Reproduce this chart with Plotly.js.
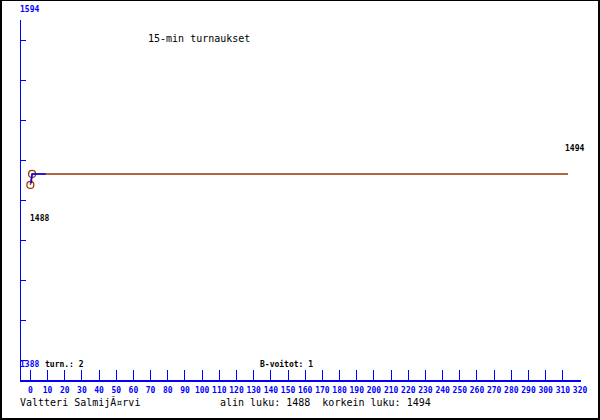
<!DOCTYPE html>
<html>
<head>
<meta charset="utf-8">
<script src="https://cdn.plot.ly/plotly-3.0.1.min.js"></script>
<style>
html,body{margin:0;padding:0;background:#fff;}
#wrap{position:relative;width:600px;height:420px;}
#chart{position:absolute;left:0;top:0;width:600px;height:420px;}
#frame{position:absolute;left:0;top:0;width:600px;height:420px;box-sizing:border-box;border:2px solid #000;border-top-width:1px;pointer-events:none;}
</style>
</head>
<body>
<div id="wrap"><div id="chart"></div><div id="frame"></div></div>
<script>
// ---- data ----
const gameX = [0, 1];            // tournament index
const rating = [1488, 1494];     // rating after each tournament
const lastX = 313;               // rating line extended to here
const avgX = [0.5, 1, 9];        // blue helper line
const avgY = [1489, 1494, 1494];
const xTicks = [0,10,20,30,40,50,60,70,80,90,100,110,120,130,140,150,160,170,180,190,200,210,220,230,240,250,260,270,280,290,300,310,320];
const topLabel = "1594";
const bottomLabel = "1388";
const titleText = "15-min turnaukset";
const playerName = "Valtteri SalmijÃ¤rvi";
const minRating = 1488;
const maxRating = 1494;
const tournaments = 2;
const bWins = 1;

// ---- layout geometry ----
const W = 600, H = 420, ML = 21, MR = 19, MT = 20, MB = 40;
const PW = W - ML - MR, PH = H - MT - MB;
const yBot = 1381.6, yTop = 1578;
const ySpan = yTop - yBot;
const px = x => (x - ML) / PW;          // pixel -> paper x
const py = y => (H - MB - y) / PH;      // pixel -> paper y

const brown = '#993300', blue = '#0000ff';
const mono = 'DejaVu Sans Mono';

const traces = [
  {x: [gameX[gameX.length-1], lastX], y: [rating[rating.length-1], rating[rating.length-1]],
   mode: 'lines', line: {color: brown, width: 1.5}, hoverinfo: 'skip'},
  {x: gameX, y: rating, mode: 'lines+markers', line: {color: brown, width: 1.5},
   marker: {symbol: 'circle-open', size: 7, color: brown, line: {width: 1.2, color: brown}}},
  {x: avgX, y: avgY, mode: 'lines', line: {color: blue, width: 1.5}, hoverinfo: 'skip'}
];

function ann(text, x, y, opts) {
  return Object.assign({text: text, xref: 'paper', yref: 'paper', x: px(x), y: py(y),
    xanchor: 'left', yanchor: 'middle', showarrow: false, borderpad: 0, borderwidth: 0,
    font: {family: mono, size: 8, color: '#000', weight: 'bold'}}, opts || {});
}

const annotations = [
  ann(topLabel, 20, 9, {font: {family: mono, size: 8, color: blue, weight: 'bold'}}),
  ann(bottomLabel, 20, 364, {font: {family: mono, size: 8, color: blue, weight: 'bold'}}),
  ann('turn.: ' + tournaments, 45, 364),
  ann('B-voitot: ' + bWins, 260, 364),
  ann(String(maxRating), 565, 148),
  ann(String(minRating), 30, 218),
  ann(titleText, 148, 38, {font: {family: mono, size: 10, color: '#000'}}),
  ann(playerName, 20, 402, {font: {family: mono, size: 10, color: '#000'}}),
  ann('alin luku: ' + minRating + '\u00a0\u00a0korkein luku: ' + maxRating, 220, 402,
      {font: {family: mono, size: 10, color: '#000'}})
];

const layout = {
  width: W, height: H,
  margin: {l: ML, r: MR, t: MT, b: MB, pad: 0},
  paper_bgcolor: '#fff', plot_bgcolor: '#fff',
  showlegend: false,
  xaxis: {
    range: [-5.45, 320.55], showgrid: false, zeroline: false,
    showline: true, linecolor: blue, linewidth: 1.5,
    tickmode: 'array', tickvals: xTicks, ticktext: xTicks.map(String),
    ticks: 'inside', ticklen: 10, tickcolor: blue, tickwidth: 1,
    ticklabelstandoff: 2,
    tickfont: {family: mono, size: 8, color: blue, weight: 'bold'},
    fixedrange: true
  },
  yaxis: {
    range: [yBot, yTop], showgrid: false, zeroline: false,
    showline: true, linecolor: blue, linewidth: 1.5,
    tickmode: 'linear', tick0: yBot + ySpan / 18, dtick: ySpan / 9,
    ticks: 'inside', ticklen: 5, tickcolor: blue, tickwidth: 1,
    showticklabels: false, fixedrange: true
  },
  annotations: annotations
};

Plotly.newPlot('chart', traces, layout, {displayModeBar: false, staticPlot: true});
</script>
</body>
</html>
